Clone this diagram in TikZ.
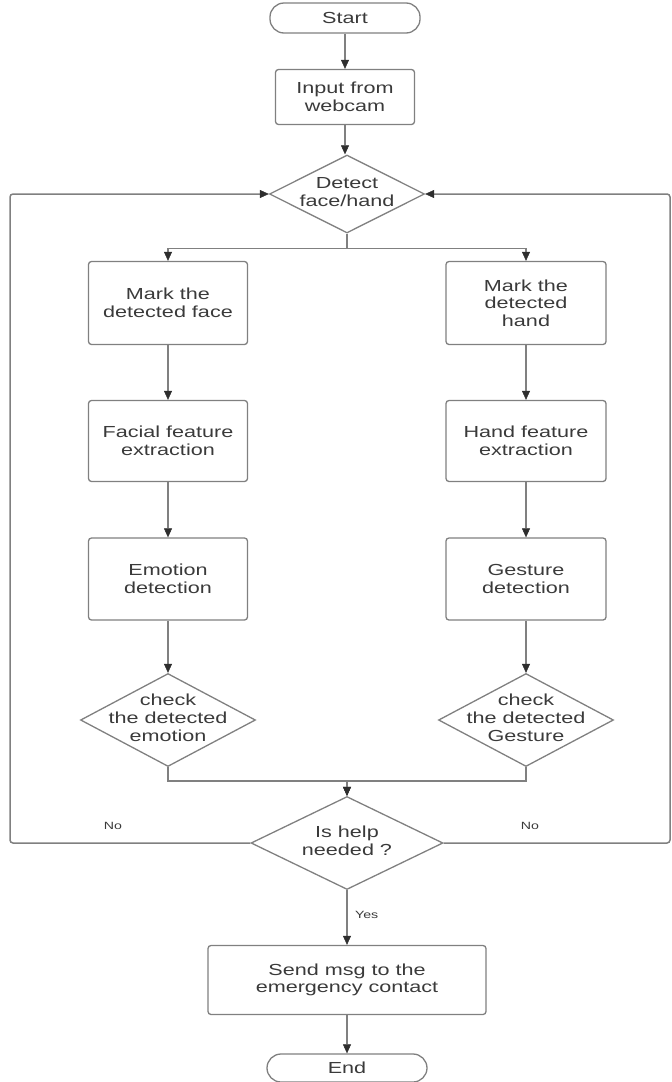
\documentclass[tikz,border=0pt]{standalone}
\usepackage{fontspec}
\setmainfont[FakeStretch=1.35]{Liberation Sans}
\usetikzlibrary{shapes.geometric,arrows.meta}
\definecolor{txt}{HTML}{3A3A3A}
\definecolor{ln}{HTML}{808080}
\definecolor{tip}{HTML}{2E2E2E}
\newcommand{\ctext}[1]{\makebox[0pt][c]{\begin{tabular}{@{}c@{}}#1\end{tabular}}}
\begin{document}
\begin{tikzpicture}[x=1pt,y=-1pt,
  every node/.style={font=\fontsize{16}{17.6}\selectfont, text=txt},
  box/.style={draw=ln, line width=1.3pt, rounded corners=3pt, align=center, inner sep=0pt},
  term/.style={draw=ln, line width=1.3pt, rounded corners=14pt, align=center, inner sep=0pt},
  dia/.style={draw=ln, line width=1.3pt, diamond, inner sep=0pt, shape aspect=1.9},
  arr/.style={draw=ln, line width=1.5pt, -{Triangle[length=9pt,width=8pt,color=tip,fill=tip,line width=0.5pt]}},
  small/.style={font=\fontsize{10.5}{12}\selectfont, text=txt}]
\useasboundingbox (0,0) rectangle (672,1082);
\node[term, minimum width=150, minimum height=30] (start) at (345,18) {Start};
\node[box, minimum width=139, minimum height=55] (input) at (345,97) {Input from\\webcam};
\node[dia, minimum width=155, minimum height=78] (detect) at (347,194) {\ctext{Detect\\face/hand}};
\node[box, minimum width=159, minimum height=83] (face) at (168,303) {Mark the\\detected face};
\node[box, minimum width=159, minimum height=81] (ffeat) at (168,441) {Facial feature\\extraction};
\node[box, minimum width=159, minimum height=82] (emo) at (168,579) {Emotion\\detection};
\node[dia, minimum width=175, minimum height=93] (chk1) at (168,720) {\ctext{check\\the detected\\emotion}};
\node[box, minimum width=160, minimum height=83] (hand) at (526,303) {Mark the\\detected\\hand};
\node[box, minimum width=160, minimum height=81] (hfeat) at (526,441) {Hand feature\\extraction};
\node[box, minimum width=160, minimum height=82] (gest) at (526,579) {Gesture\\detection};
\node[dia, minimum width=175, minimum height=93] (chk2) at (526,720) {\ctext{check\\the detected\\Gesture}};
\node[dia, minimum width=192, minimum height=93] (help) at (347,843) {\ctext{Is help\\needed ?}};
\node[box, minimum width=278, minimum height=69] (send) at (347,980) {Send msg to the\\emergency contact};
\node[term, minimum width=160, minimum height=28] (end) at (347,1068) {End};
\coordinate (lc) at (10,843);
\coordinate (rc) at (670,843);
\draw[arr] (start) -- (input);
\draw[arr] (input.south) -- (input.south |- detect.north);
\draw[arr] (detect.south) -- ++(0,15) -| (face.north);
\draw[arr] (detect.south) -- ++(0,15) -| (hand.north);
\draw[arr] (face) -- (ffeat);
\draw[arr] (ffeat) -- (emo);
\draw[arr] (emo) -- (chk1);
\draw[arr] (hand) -- (hfeat);
\draw[arr] (hfeat) -- (gest);
\draw[arr] (gest) -- (chk2);
\draw[arr] (chk1.south) -- ++(0,14) -| (help.north);
\draw[arr] (chk2.south) -- ++(0,14) -| (help.north);
\draw[arr, rounded corners=3pt] (help.west) -- (lc) |- (detect.west);
\draw[arr, rounded corners=3pt] (help.east) -- (rc) |- (detect.east);
\node[small] (nol) at (113,826) {No};
\node[small] (nor) at (530,826) {No};
\draw[arr] (help.south) -- (send.north) node[small, pos=0.45, right=4pt] (yes) {Yes};
\draw[arr] (send) -- (end);
\end{tikzpicture}
\end{document}
